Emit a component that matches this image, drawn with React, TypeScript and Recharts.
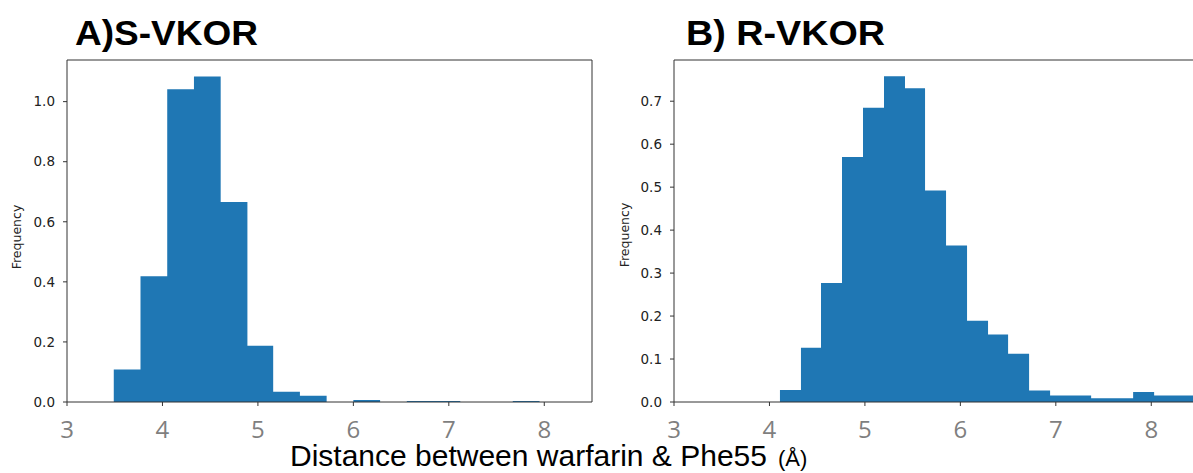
import React from "react";
import { ComposedChart, Area, XAxis, YAxis, ReferenceLine } from "recharts";

// histogram bin edges and densities
const sEdges = [3.49, 3.77, 4.05, 4.33, 4.61, 4.89, 5.16, 5.44, 5.72, 6.0, 6.28, 6.56, 6.84, 7.12, 7.39, 7.67, 7.95];
const sDensity = [0.108, 0.419, 1.041, 1.084, 0.666, 0.187, 0.034, 0.021, 0.0, 0.007, 0.0, 0.003, 0.003, 0.0, 0.0, 0.003];

const rEdges = [4.11, 4.33, 4.54, 4.76, 4.98, 5.2, 5.42, 5.63, 5.85, 6.07, 6.29, 6.5, 6.72, 6.94, 7.16, 7.37, 7.59, 7.81, 8.03, 8.24, 8.46];
const rDensity = [0.028, 0.126, 0.277, 0.57, 0.685, 0.758, 0.73, 0.492, 0.364, 0.189, 0.157, 0.112, 0.027, 0.015, 0.015, 0.0085, 0.0085, 0.023, 0.015, 0.015];

const xTicks = [3, 4, 5, 6, 7, 8];
const sYTicks = [0, 0.2, 0.4, 0.6, 0.8, 1.0];
const rYTicks = [0, 0.1, 0.2, 0.3, 0.4, 0.5, 0.6, 0.7];

const BLUE = "#1f77b4";
const INK = "#333";

function toSteps(edges: number[], dens: number[]) {
  return edges.map((x, i) => ({ x, y: i < dens.length ? dens[i] : 0 }));
}

function Hist({ edges, dens, yTicks, yMax }: { edges: number[]; dens: number[]; yTicks: number[]; yMax: number }) {
  return (
    <ComposedChart width={600} height={473} data={toSteps(edges, dens)} margin={{ top: 60, right: 8, bottom: 0, left: 0 }}>
      <XAxis
        dataKey="x"
        type="number"
        domain={[3, 8.5]}
        ticks={xTicks}
        allowDataOverflow
        height={71}
        tickSize={4}
        tickMargin={15}
        axisLine={{ stroke: INK }}
        tickLine={{ stroke: INK }}
        tick={{ fontSize: 24, fill: "#7f7f7f", fontFamily: "Open Sans" }}
      />
      <YAxis
        type="number"
        domain={[0, yMax]}
        ticks={yTicks}
        allowDataOverflow
        width={67}
        tickSize={4}
        tickMargin={8}
        axisLine={{ stroke: INK }}
        tickLine={{ stroke: INK }}
        tickFormatter={(v: number) => v.toFixed(1)}
        tick={{ fontSize: 13.5, fill: "#222", fontFamily: "DejaVu Sans" }}
      />
      <Area type="stepAfter" dataKey="y" fill={BLUE} fillOpacity={1} stroke="none" dot={false} activeDot={false} baseValue={0} isAnimationActive={false} />
      {/* frame: top and right spines */}
      <ReferenceLine y={yMax} stroke={INK} ifOverflow="visible" />
      <ReferenceLine x={8.5} stroke={INK} ifOverflow="visible" />
    </ComposedChart>
  );
}

export default function App() {
  return (
    <div style={{ position: "absolute", left: 0, top: 0, width: 1193, height: 473, overflow: "hidden", background: "#fff" }}>
      <div style={{ position: "absolute", left: 0, top: 0 }}>
        <Hist edges={sEdges} dens={sDensity} yTicks={sYTicks} yMax={1.1386} />
      </div>
      <div style={{ position: "absolute", left: 607, top: 0 }}>
        <Hist edges={rEdges} dens={rDensity} yTicks={rYTicks} yMax={0.7959} />
      </div>
      <svg width={1193} height={473} style={{ position: "absolute", left: 0, top: 0, pointerEvents: "none" }}>
        <text x={75} y={45} fontFamily="Liberation Sans" fontWeight="bold" fontSize={35} fill="#000" textLength={183} lengthAdjust="spacingAndGlyphs">A)S-VKOR</text>
        <text x={686} y={45} fontFamily="Liberation Sans" fontWeight="bold" fontSize={35} fill="#000" textLength={199} lengthAdjust="spacingAndGlyphs">B) R-VKOR</text>
        <text transform="translate(21,237) rotate(-90)" textAnchor="middle" fontFamily="DejaVu Sans" fontSize={12.5} fill="#222">Frequency</text>
        <text transform="translate(629,235) rotate(-90)" textAnchor="middle" fontFamily="DejaVu Sans" fontSize={12.5} fill="#222">Frequency</text>
        <text x={290} y={466} fontFamily="Liberation Sans" fontSize={30} fill="#000">
          Distance between warfarin &amp; Phe55<tspan dx={11} fontSize={22}>(Å)</tspan>
        </text>
      </svg>
    </div>
  );
}
